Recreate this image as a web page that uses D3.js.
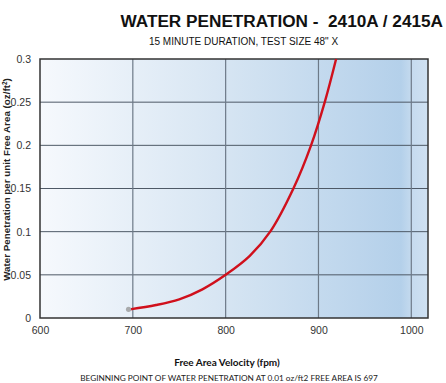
<!DOCTYPE html>
<html>
<head>
<meta charset="utf-8">
<script src="https://cdn.jsdelivr.net/npm/d3@7"></script>
<style>
  body { margin: 0; background: #fff; }
  svg { display: block; }
</style>
</head>
<body>
<svg id="chart" width="446" height="383"></svg>
<script>
// values
var velocity = [697, 725, 750, 775, 800, 826, 848, 873, 892, 907, 919];
var penetration = [0.01, 0.015, 0.0216, 0.0332, 0.05, 0.072, 0.1, 0.15, 0.2, 0.251, 0.3];
var xTicks = [600, 700, 800, 900, 1000];
var yTicks = [0, 0.05, 0.1, 0.15, 0.2, 0.25, 0.3];

// plot box (note: "top" is taken by window.top)
var plotL = 40, plotR = 428, plotT = 59, plotB = 318;

var svg = d3.select('#chart');

var x = d3.scaleLinear().domain([600, 1018]).range([plotL, plotR]);
var y = d3.scaleLinear().domain([0, 0.3]).range([plotB, plotT]);

// background gradient
var grad = svg.append('defs').append('linearGradient')
  .attr('id', 'bg').attr('x1', '0%').attr('x2', '100%').attr('y1', '0%').attr('y2', '0%');
grad.append('stop').attr('offset', '0%').attr('stop-color', '#f6f9fd');
grad.append('stop').attr('offset', '45%').attr('stop-color', '#d8e6f3');
grad.append('stop').attr('offset', '93%').attr('stop-color', '#b4d0ea');
grad.append('stop').attr('offset', '96%').attr('stop-color', '#c6dbef');
grad.append('stop').attr('offset', '100%').attr('stop-color', '#cfe1f2');

svg.append('rect')
  .attr('x', plotL).attr('y', plotT)
  .attr('width', plotR - plotL).attr('height', plotB - plotT)
  .attr('fill', 'url(#bg)');

// grid
svg.append('g').selectAll('line')
  .data(yTicks.slice(1, -1))
  .enter().append('line')
  .attr('x1', plotL).attr('x2', plotR)
  .attr('y1', function(d){ return y(d); })
  .attr('y2', function(d){ return y(d); })
  .attr('stroke', '#4e5966').attr('stroke-width', 1);

svg.append('g').selectAll('line')
  .data(xTicks.slice(1))
  .enter().append('line')
  .attr('x1', function(d){ return x(d); })
  .attr('x2', function(d){ return x(d); })
  .attr('y1', plotT).attr('y2', plotB)
  .attr('stroke', '#6d7a88').attr('stroke-width', 1.2);

// frame
svg.append('rect')
  .attr('x', plotL).attr('y', plotT)
  .attr('width', plotR - plotL).attr('height', plotB - plotT)
  .attr('fill', 'none').attr('stroke', '#333').attr('stroke-width', 1.5);

// axes
var yAxis = svg.append('g')
  .attr('transform', 'translate(' + plotL + ',0)')
  .call(d3.axisLeft(y).tickValues(yTicks).tickSize(0).tickPadding(9)
    .tickFormat(function(d){ return d === 0 ? '0' : String(d); }));
yAxis.select('.domain').remove();
yAxis.selectAll('text')
  .attr('font-family', 'Liberation Sans, Arial, sans-serif')
  .attr('font-size', 10.5).attr('fill', '#333');

var xAxis = svg.append('g')
  .attr('transform', 'translate(0,' + plotB + ')')
  .call(d3.axisBottom(x).tickValues(xTicks).tickSize(0).tickPadding(9)
    .tickFormat(d3.format('d')));
xAxis.select('.domain').remove();
xAxis.selectAll('text')
  .attr('font-family', 'Liberation Sans, Arial, sans-serif')
  .attr('font-size', 10.5).attr('fill', '#333');

// curve
var line = d3.line()
  .x(function(d, i){ return x(velocity[i]); })
  .y(function(d){ return y(d); })
  .curve(d3.curveCatmullRom.alpha(0.5));

svg.append('path')
  .datum(penetration)
  .attr('d', line)
  .attr('fill', 'none')
  .attr('stroke', '#d0101c')
  .attr('stroke-width', 2.4);

svg.append('circle')
  .attr('cx', x(velocity[0]) - 1.5)
  .attr('cy', y(penetration[0]))
  .attr('r', 2.6)
  .attr('fill', '#a8aaac');

// titles
svg.append('text')
  .attr('x', 443).attr('y', 27)
  .attr('text-anchor', 'end')
  .attr('font-family', 'Liberation Sans, Arial, sans-serif')
  .attr('font-weight', 'bold').attr('font-size', 17.2)
  .attr('fill', '#111')
  .attr('xml:space', 'preserve')
  .text('WATER PENETRATION -  2410A / 2415A');

svg.append('text')
  .attr('x', 243.5).attr('y', 45)
  .attr('text-anchor', 'middle')
  .attr('font-family', 'Liberation Sans, Arial, sans-serif')
  .attr('font-size', 10).attr('fill', '#111')
  .text('15 MINUTE DURATION, TEST SIZE 48" X');

svg.append('text')
  .attr('transform', 'translate(9.5,' + ((plotT + plotB) / 2 - 9) + ') rotate(-90)')
  .attr('text-anchor', 'middle')
  .attr('font-family', 'Liberation Sans, Arial, sans-serif')
  .attr('font-weight', 'bold').attr('font-size', 9.8)
  .attr('fill', '#222')
  .html('Water Penetration per unit Free Area (oz/ft<tspan dy="-3" font-size="6.5">2</tspan><tspan dy="3">)</tspan>');

svg.append('text')
  .attr('x', 227).attr('y', 366)
  .attr('text-anchor', 'middle')
  .attr('font-family', 'Lato, Open Sans, sans-serif')
  .attr('font-weight', 'bold').attr('font-size', 10)
  .attr('fill', '#111')
  .text('Free Area Velocity (fpm)');

svg.append('text')
  .attr('x', 229).attr('y', 381)
  .attr('text-anchor', 'middle')
  .attr('font-family', 'Lato, Open Sans, sans-serif')
  .attr('font-size', 8.25)
  .attr('fill', '#222')
  .text('BEGINNING POINT OF WATER PENETRATION AT 0.01 oz/ft2 FREE AREA IS 697');
</script>
</body>
</html>
